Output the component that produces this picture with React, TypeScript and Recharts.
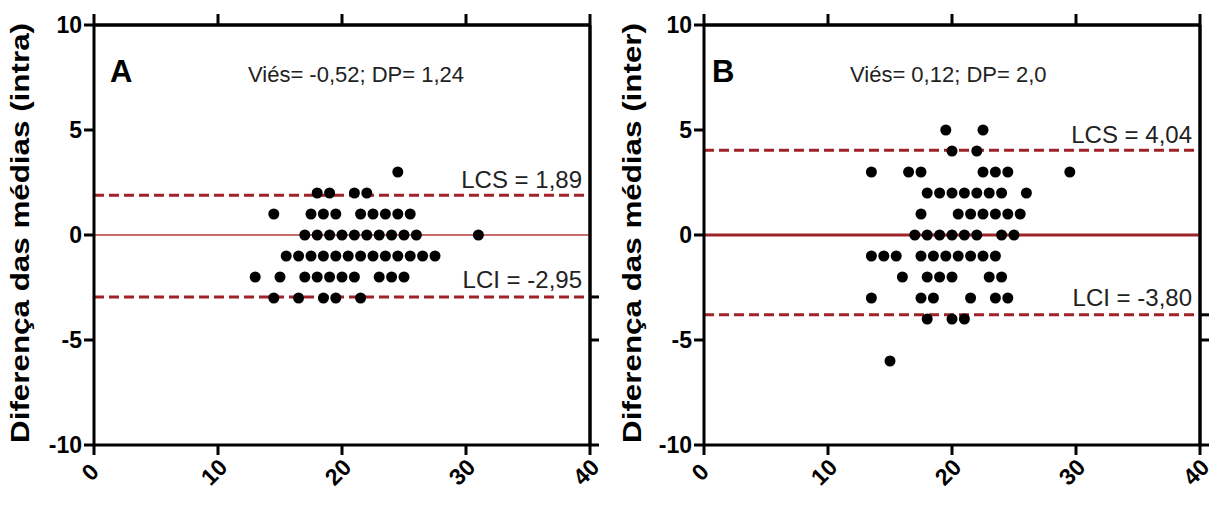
import { ScatterChart, Scatter, XAxis, YAxis, ReferenceLine } from "recharts";

const FONT = "'Liberation Sans', Arial, sans-serif";
const DARK_RED = "#9e2328";

const X_TICKS = [0, 10, 20, 30, 40];
const Y_TICKS = [-10, -5, 0, 5, 10];

// Painel A (intra) — média (x) agrupada por diferença (y)
const intraPlus3 = [24.5];
const intraPlus2 = [18, 19, 21, 22];
const intraPlus1 = [14.5, 17.5, 18.5, 19.5, 21.5, 22.5, 23.5, 24.5, 25.5];
const intraZero = [17, 18, 19, 20, 21, 22, 23, 24, 25, 26, 31];
const intraMinus1 = [15.5, 16.5, 17.5, 18.5, 19.5, 20.5, 21.5, 22.5, 23.5, 24.5, 25.5, 26.5, 27.5];
const intraMinus2 = [13, 15, 17, 18, 19, 20, 21, 23, 24, 25];
const intraMinus3 = [14.5, 16.5, 18.5, 19.5, 21.5];
const intraStats = { bias: -0.52, sd: "1,24", lcs: 1.89, lci: -2.95 };

// Painel B (inter)
const interPlus5 = [19.5, 22.5];
const interPlus4 = [20, 22];
const interPlus3 = [13.5, 16.5, 17.5, 22.5, 23.5, 24.5, 29.5];
const interPlus2 = [18, 19, 20, 21, 22, 23, 24, 26];
const interPlus1 = [17.5, 20.5, 21.5, 22.5, 23.5, 24.5, 25.5];
const interZero = [17, 18, 19, 20, 21, 22, 24, 25];
const interMinus1 = [13.5, 14.5, 15.5, 17.5, 18.5, 19.5, 20.5, 21.5, 22.5, 23.5];
const interMinus2 = [16, 18, 19, 20, 23, 24];
const interMinus3 = [13.5, 17.5, 18.5, 21.5, 23.5, 24.5];
const interMinus4 = [18, 20, 21];
const interMinus6 = [15];
const interStats = { bias: 0.12, sd: "2,0", lcs: 4.04, lci: -3.8 };

type Row = [number, number[]];
const toPoints = (rows: Row[]) =>
  rows.flatMap(([y, xs]) => xs.map((x) => ({ x, y })));

const intraPoints = toPoints([
  [3, intraPlus3],
  [2, intraPlus2],
  [1, intraPlus1],
  [0, intraZero],
  [-1, intraMinus1],
  [-2, intraMinus2],
  [-3, intraMinus3],
]);

const interPoints = toPoints([
  [5, interPlus5],
  [4, interPlus4],
  [3, interPlus3],
  [2, interPlus2],
  [1, interPlus1],
  [0, interZero],
  [-1, interMinus1],
  [-2, interMinus2],
  [-3, interMinus3],
  [-4, interMinus4],
  [-6, interMinus6],
]);

const fmt = (v: number, digits: number) => v.toFixed(digits).replace(".", ",");

const axisStroke = { stroke: "#000", strokeWidth: 3 };

function RotatedTick(props: any) {
  const { x, y, payload } = props;
  return (
    <g transform={`translate(${x - 4},${y + 17}) rotate(-45)`}>
      <text
        textAnchor="middle"
        dominantBaseline="central"
        fontFamily={FONT}
        fontWeight="bold"
        fontSize={23}
        fill="#000"
      >
        {payload.value}
      </text>
    </g>
  );
}

const NoLabel = () => <g />;

function Panel({
  letter,
  title,
  points,
  stats,
  left,
  width,
  yAxisWidth,
  marginRight,
  titleX,
  textX,
  zeroWidth,
  zeroColor,
}: {
  letter: string;
  title: string;
  points: { x: number; y: number }[];
  stats: { bias: number; sd: string; lcs: number; lci: number };
  left: number;
  width: number;
  yAxisWidth: number;
  marginRight: number;
  titleX: number;
  textX: number;
  zeroWidth: number;
  zeroColor: string;
}) {
  const limitLabel = (text: string, lift: number) => (p: any) => {
    const vb = p.viewBox;
    return (
      <text
        x={vb.x + vb.width - 8}
        y={vb.y - lift}
        textAnchor="end"
        fontFamily={FONT}
        fontSize={24}
        fill="#222"
      >
        {text}
      </text>
    );
  };

  return (
    <div style={{ position: "absolute", left, top: 0, width, height: 507 }}>
      <ScatterChart
        width={width}
        height={507}
        margin={{ top: 13, right: marginRight - 12, bottom: 0, left: 0 }}
      >
        <XAxis
          xAxisId="bottom"
          type="number"
          dataKey="x"
          domain={[0, 40]}
          allowDataOverflow
          ticks={X_TICKS}
          height={62}
          tickSize={10}
          tickMargin={0}
          axisLine={axisStroke}
          tickLine={axisStroke}
          tick={<RotatedTick />}
        />
        <XAxis
          xAxisId="top"
          orientation="top"
          type="number"
          dataKey="x"
          domain={[0, 40]}
          allowDataOverflow
          ticks={X_TICKS}
          height={12}
          tickSize={11}
          axisLine={axisStroke}
          tickLine={axisStroke}
          tick={<NoLabel />}
        />
        <YAxis
          yAxisId="left"
          type="number"
          dataKey="y"
          domain={[-10, 10]}
          allowDataOverflow
          ticks={Y_TICKS}
          width={yAxisWidth}
          tickSize={10}
          tickMargin={2}
          axisLine={axisStroke}
          tickLine={axisStroke}
          tick={{ fill: "#000", fontSize: 23, fontWeight: "bold", fontFamily: FONT }}
          label={(p: any) => {
            const vb = p.viewBox;
            const cy = vb.y + vb.height / 2 - 2;
            return (
              <text
                x={titleX}
                y={cy}
                transform={`rotate(-90, ${titleX}, ${cy})`}
                textAnchor="middle"
                dominantBaseline="central"
                fontFamily={FONT}
                fontWeight="bold"
                fontSize={25}
                textLength={420}
                lengthAdjust="spacingAndGlyphs"
                fill="#000"
              >
                {title}
              </text>
            );
          }}
        />
        <YAxis
          yAxisId="right"
          orientation="right"
          type="number"
          dataKey="y"
          domain={[-10, 10]}
          allowDataOverflow
          ticks={[...Y_TICKS, stats.lcs, stats.lci]}
          width={12}
          tickSize={9}
          axisLine={axisStroke}
          tickLine={axisStroke}
          tick={<NoLabel />}
        />
        <ReferenceLine xAxisId="bottom" yAxisId="left" y={10} stroke="#000" strokeWidth={3} />
        <ReferenceLine xAxisId="bottom" yAxisId="left" x={40} stroke="#000" strokeWidth={3} />
        <ReferenceLine
          xAxisId="bottom"
          yAxisId="left"
          y={0}
          stroke={zeroColor}
          strokeWidth={zeroWidth}
        />
        <ReferenceLine
          xAxisId="bottom"
          yAxisId="left"
          y={stats.lcs}
          stroke={DARK_RED}
          strokeWidth={3}
          strokeDasharray="10 5"
          label={limitLabel(`LCS = ${fmt(stats.lcs, 2)}`, 7)}
        />
        <ReferenceLine
          xAxisId="bottom"
          yAxisId="left"
          y={stats.lci}
          stroke={DARK_RED}
          strokeWidth={3}
          strokeDasharray="10 5"
          label={limitLabel(`LCI = ${fmt(stats.lci, 2)}`, 9)}
        />
        {/* invisible copy so the mirror axes (top/right) have data linked */}
        <Scatter
          xAxisId="top"
          yAxisId="right"
          data={points}
          isAnimationActive={false}
          legendType="none"
          shape={() => <g />}
        />
        <Scatter
          xAxisId="bottom"
          yAxisId="left"
          data={points}
          isAnimationActive={false}
          shape={(p: any) => <circle cx={p.cx} cy={p.cy} r={5.5} fill="#000" />}
        />
      </ScatterChart>
      <svg
        width={width}
        height={507}
        style={{ position: "absolute", left: 0, top: 0, pointerEvents: "none" }}
      >
        <text x={textX - 138} y={82} fontFamily={FONT} fontWeight="bold" fontSize={31} fill="#000">
          {letter}
        </text>
        <text x={textX} y={82} fontFamily={FONT} fontSize={22} fill="#222">
          {`Viés= ${fmt(stats.bias, 2)}; DP= ${stats.sd}`}
        </text>
      </svg>
    </div>
  );
}

export default function App() {
  return (
    <div
      style={{
        position: "absolute",
        left: 0,
        top: 0,
        width: 1213,
        height: 507,
        background: "#fff",
        overflow: "hidden",
      }}
    >
      <Panel
        letter="A"
        title="Diferença das médias (intra)"
        points={intraPoints}
        stats={intraStats}
        left={0}
        width={607}
        yAxisWidth={94}
        marginRight={17}
        titleX={20}
        textX={248}
        zeroWidth={1.5}
        zeroColor="#b23a3a"
      />
      <Panel
        letter="B"
        title="Diferença das médias (inter)"
        points={interPoints}
        stats={interStats}
        left={607}
        width={606}
        yAxisWidth={97}
        marginRight={13}
        titleX={25}
        textX={243}
        zeroWidth={3}
        zeroColor={DARK_RED}
      />
    </div>
  );
}
